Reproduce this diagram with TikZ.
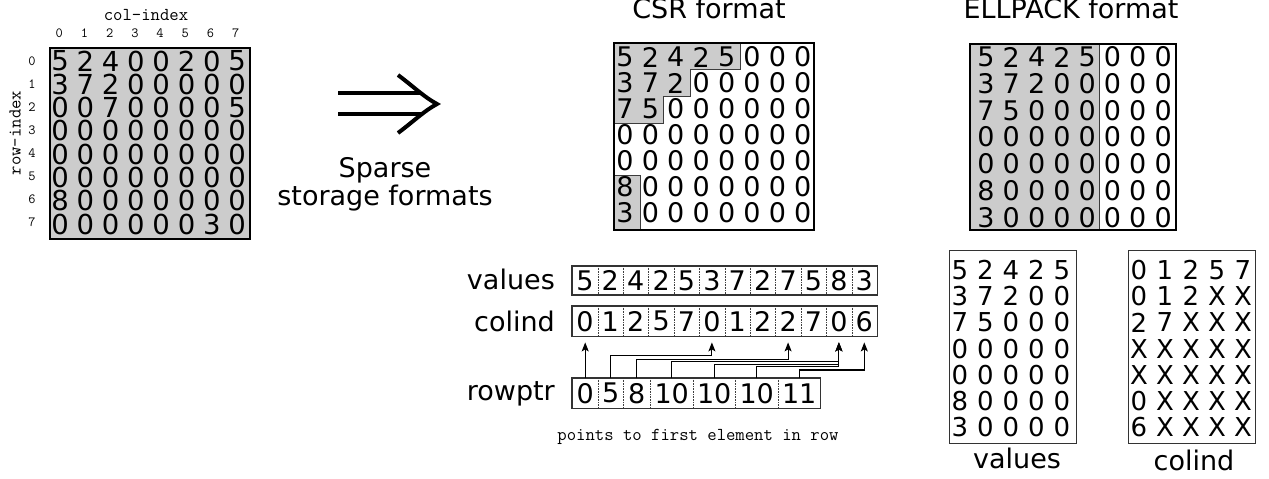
\documentclass[tikz,border=0pt]{standalone}
\usepackage{fontspec}
\setmainfont{DejaVu Sans}
\usetikzlibrary{arrows.meta,calc}
\definecolor{cellgray}{RGB}{204,204,204}
\definecolor{edgegray}{RGB}{60,60,60}

\begin{document}
\begin{tikzpicture}[x=1pt,y=-1pt,
  bigdigit/.style={inner sep=0pt, font=\fontsize{27.5}{27.5}\selectfont},
  digit/.style={inner sep=0pt, font=\fontsize{27}{27}\selectfont},
  smalldigit/.style={inner sep=0pt, font=\fontsize{26}{26}\selectfont},
  idx/.style={inner sep=0pt, font=\fontsize{14}{14}\selectfont\ttfamily},
  monolabel/.style={inner sep=0pt, font=\fontsize{18.2}{18.2}\selectfont\ttfamily},
  caption/.style={inner sep=0pt, anchor=base, font=\fontsize{27}{27}\selectfont},
  cell/.style={inner sep=0pt, font=\fontsize{27}{27}\selectfont},
  sep/.style={densely dotted, line width=0.6pt, black!75},
  frame/.style={draw=black!80, line width=1.2pt, inner sep=0pt},
  ptr/.style={line width=1.1pt, -{Stealth[length=9pt,width=7pt,inset=2pt]}, shorten >=6pt}
]
\useasboundingbox (0,0) rectangle (1269,479);

% ---------------- dense 8x8 matrix ----------------
\node[draw=black, fill=cellgray, line width=2pt, inner sep=0pt,
      minimum width=200pt, minimum height=191pt, anchor=north west] (dense) at (49,47) {};
\foreach \row [count=\r from 0] in
  {{5,2,4,0,0,2,0,5},{3,7,2,0,0,0,0,0},{0,0,7,0,0,0,0,5},{0,0,0,0,0,0,0,0},
   {0,0,0,0,0,0,0,0},{0,0,0,0,0,0,0,0},{8,0,0,0,0,0,0,0},{0,0,0,0,0,0,3,0}}
  \foreach \v [count=\c from 0] in \row
    \node[bigdigit] (a-\r-\c) at (60+25.3*\c, 61+23.3*\r) {\v};
\foreach \c in {0,...,7}
  \node[idx] (colidx-\c) at (59.3+25.2*\c, 33) {\c};
\foreach \r in {0,...,7}
  \node[idx] (rowidx-\r) at (32, 61+23*\r) {\r};
\node[monolabel] (colhead) at (146,15) {col-index};
\node[monolabel, rotate=90] (rowhead) at (15,133) {row-index};

% ---------------- conversion arrow ----------------
\draw[line width=4pt] (338,93.3) -- (421,93.3) (338,114.3) -- (421,114.3);
\draw[line width=4pt] (398,75) .. controls (414,87) and (424,97) .. (437,104)
                               .. controls (424,111) and (414,121) .. (398,133);
\node[caption] (lab1) at (385,177) {Sparse};
\node[caption] (lab2) at (385,205) {storage formats};

% ---------------- CSR matrix view ----------------
\node[caption] (csrtitle) at (709,18.5) {CSR format};
\filldraw[fill=cellgray, draw=edgegray, line width=1pt]
  (613,42) -- (740,42) -- (740,69) -- (690,69) -- (690,96) -- (663,96) -- (663,123) -- (613,123) -- cycle;
\filldraw[fill=cellgray, draw=edgegray, line width=1pt]
  (613,175) -- (640,175) -- (640,229) -- (613,229) -- cycle;
\node[frame, draw=black, line width=1.5pt, minimum width=200pt, minimum height=187pt, anchor=north west] (csrbox) at (613,42) {};
\foreach \row [count=\r from 0] in
  {{5,2,4,2,5,0,0,0},{3,7,2,0,0,0,0,0},{7,5,0,0,0,0,0,0},{0,0,0,0,0,0,0,0},
   {0,0,0,0,0,0,0,0},{8,0,0,0,0,0,0,0},{3,0,0,0,0,0,0,0}}
  \foreach \v [count=\c from 0] in \row
    \node[digit] (csr-\r-\c) at (625+25.4*\c, 57+26*\r) {\v};

% ---------------- ELLPACK matrix view ----------------
\node[caption] (elltitle) at (1071,18.5) {ELLPACK format};
\fill[cellgray] (969,43) rectangle (1099,229);
\draw[edgegray, line width=1pt] (1099,43) -- (1099,229);
\node[frame, draw=black, line width=1.5pt, minimum width=206pt, minimum height=186pt, anchor=north west] (ellbox) at (969,43) {};
\foreach \row [count=\r from 0] in
  {{5,2,4,2,5,0,0,0},{3,7,2,0,0,0,0,0},{7,5,0,0,0,0,0,0},{0,0,0,0,0,0,0,0},
   {0,0,0,0,0,0,0,0},{8,0,0,0,0,0,0,0},{3,0,0,0,0,0,0,0}}
  \foreach \v [count=\c from 0] in \row
    \node[digit] (ell-\r-\c) at (986+25.3*\c, 57+26.7*\r) {\v};

% ---------------- CSR arrays ----------------
\node[caption, anchor=base east] (vlab) at (555,289) {values};
\node[caption, anchor=base east] (clab) at (555,331) {colind};
\node[caption, anchor=base east] (rlab) at (555,400) {rowptr};

\foreach \v [count=\k from 0] in {5,2,4,2,5,3,7,2,7,5,8,3}
  \node[cell, minimum width=25.4pt, minimum height=28.5pt, anchor=north west] (cv-\k) at (572+25.4*\k, 266) {\v};
\foreach \k in {0,...,10}
  \draw[sep] (cv-\k.north east) -- (cv-\k.south east);
\draw[frame] (cv-0.north west) rectangle (cv-11.south east);

\foreach \v [count=\k from 0] in {0,1,2,5,7,0,1,2,2,7,0,6}
  \node[cell, minimum width=25.4pt, minimum height=30pt, anchor=north west] (cc-\k) at (572+25.4*\k, 306) {\v};
\foreach \k in {0,...,10}
  \draw[sep] (cc-\k.north east) -- (cc-\k.south east);
\draw[frame] (cc-0.north west) rectangle (cc-11.south east);

\foreach \v/\l/\w [count=\k from 0] in {0/572/26, 5/598/25, 8/623/27, 10/650/43, 10/693/42, 10/735/43, 11/778/42}
  \node[cell, minimum width=\w pt, minimum height=30pt, anchor=north west] (rp-\k) at (\l, 378) {\v};
\foreach \k in {0,...,5}
  \draw[sep] (rp-\k.north east) -- (rp-\k.south east);
\draw[frame] (rp-0.north west) rectangle (rp-6.south east);

% row pointers into the column index array
\draw[ptr] (rp-0.north) -- (rp-0.north |- cc-0.south);
\draw[ptr] (rp-1.north) -- ++(0,-22.3) -| (cc-5.south);
\draw[ptr] (rp-2.north) -- ++(0,-18.7) -| (cc-8.south);
\draw[ptr] (rp-3.north) -- ++(0,-16.3) -| (cc-10.south);
\draw[ptr] (rp-4.north) -- ++(0,-13.7) -| (cc-10.south);
\draw[ptr] (rp-5.north) -- ++(0,-11.3) -| (cc-10.south);
\draw[ptr] (rp-6.north) -- ++(0,-8) -| (cc-11.south);

\node[monolabel] (ptrnote) at (698,437) {points to first element in row};

% ---------------- ELLPACK arrays ----------------
\node[frame, minimum width=127pt, minimum height=193pt, anchor=north west] (ellvbox) at (949,250) {};
\foreach \row [count=\r from 0] in
  {{5,2,4,2,5},{3,7,2,0,0},{7,5,0,0,0},{0,0,0,0,0},{0,0,0,0,0},{8,0,0,0,0},{3,0,0,0,0}}
  \foreach \v [count=\c from 0] in \row
    \node[smalldigit] (ev-\r-\c) at (960+25.5*\c, 270+26.2*\r) {\v};
\node[caption] (evlab) at (1017,468) {values};

\node[frame, minimum width=127pt, minimum height=193pt, anchor=north west] (ellcbox) at (1128,250) {};
\foreach \row [count=\r from 0] in
  {{0,1,2,5,7},{0,1,2,X,X},{2,7,X,X,X},{X,X,X,X,X},{X,X,X,X,X},{0,X,X,X,X},{6,X,X,X,X}}
  \foreach \v [count=\c from 0] in \row
    \node[smalldigit] (ec-\r-\c) at (1139+26*\c, 270+26.2*\r) {\v};
\node[caption] (eclab) at (1194,470) {colind};
\end{tikzpicture}
\end{document}
